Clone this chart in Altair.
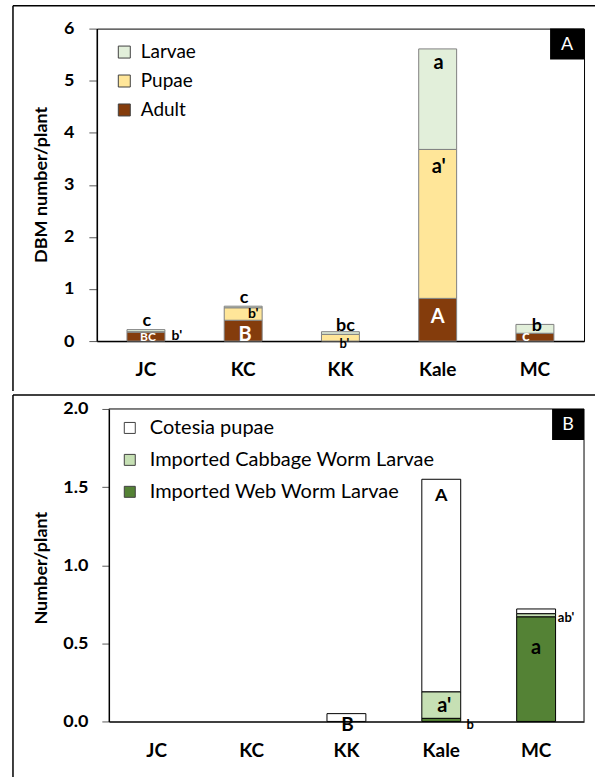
import altair as alt
import pandas as pd

FONT = "Lato"
cats = ["JC", "KC", "KK", "Kale", "MC"]

# ---------- Panel A: DBM number / plant ----------
a_series = ["Larvae", "Pupae", "Adult"]
a_colors = ["#E2EFDA", "#FFE699", "#843C0C"]
a_adult = [0.17, 0.40, 0.00, 0.82, 0.15]
a_pupae = [0.01, 0.24, 0.13, 2.86, 0.00]
a_larvae = [0.04, 0.03, 0.05, 1.93, 0.17]

a_let_cat = ["JC", "JC", "JC", "KC", "KC", "KC", "KK", "KK", "Kale", "Kale", "Kale", "MC", "MC"]
a_let_y = [0.39, 0.07, 0.09, 0.82, 0.52, 0.12, 0.29, -0.06, 5.33, 3.35, 0.46, 0.29, 0.10]
a_let_txt = ["c", "BC", "b'", "c", "b'", "B", "bc", "b'", "a", "a'", "A", "b", "c"]
# style per letter: (color, font size, dx)
a_let_style = [("black", 18, 1), ("white", 12, 2), ("black", 14, 31), ("black", 18, 1),
               ("black", 14, 10), ("white", 20, 2), ("black", 18, 5), ("black", 13, 4),
               ("black", 20, 1), ("black", 20, 1), ("white", 20, 0), ("black", 18, 2),
               ("white", 16, -9)]

# ---------- Panel B: Number / plant ----------
b_series = ["Cotesia pupae", "Imported Cabbage Worm Larvae", "Imported Web Worm Larvae"]
b_colors = ["#FFFFFF", "#C6E0B4", "#548235"]
b_web = [0.00, 0.00, 0.00, 0.02, 0.67]
b_cabbage = [0.00, 0.00, 0.00, 0.17, 0.02]
b_cotesia = [0.00, 0.00, 0.05, 1.36, 0.03]

b_let_cat = ["KK", "Kale", "Kale", "Kale", "MC", "MC"]
b_let_y = [-0.02, 1.44, 0.10, -0.02, 0.66, 0.47]
b_let_txt = ["B", "A", "a'", "b", "ab'", "a"]
b_let_style = [("black", 19, 1), ("black", 18, 0), ("black", 20, 3), ("black", 13, 29),
               ("black", 13, 30), ("black", 20, 0)]


def long_df(value_lists, names):
    rows = []
    for k, (name, vals) in enumerate(zip(names, value_lists)):
        for c, v in zip(cats, vals):
            if v > 0:
                rows.append({"cat": c, "series": name, "value": v, "ord": k})
    return pd.DataFrame(rows)


dfA = long_df([a_adult, a_pupae, a_larvae], ["Adult", "Pupae", "Larvae"])
dfB = long_df([b_web, b_cabbage, b_cotesia],
              ["Imported Web Worm Larvae", "Imported Cabbage Worm Larvae", "Cotesia pupae"])


def letters(cat_l, y_l, txt_l, style_l):
    layers = []
    for c, y, t, (col, fs, dx) in zip(cat_l, y_l, txt_l, style_l):
        d = pd.DataFrame({"cat": [c], "y": [y], "t": [t]})
        layers.append(
            alt.Chart(d).mark_text(color=col, fontSize=fs, fontWeight="bold", font=FONT,
                                   dx=dx, baseline="middle", align="center")
            .encode(x=alt.X("cat:N"), y=alt.Y("y:Q"), text="t:N")
        )
    return layers


def rule(x, y, x2=None, y2=None, width=1.5, color="black"):
    enc = {"x": alt.value(x), "y": alt.value(y)}
    if x2 is not None:
        enc["x2"] = alt.value(x2)
    if y2 is not None:
        enc["y2"] = alt.value(y2)
    return alt.Chart(pd.DataFrame({"k": [0]})).mark_rule(
        color=color, strokeWidth=width, clip=False).encode(**enc)


def tag(letter, x0, x1, h):
    d = pd.DataFrame({"t": [letter]})
    box = alt.Chart(d).mark_rect(color="black").encode(
        x=alt.value(x0), x2=alt.value(x1), y=alt.value(0), y2=alt.value(h))
    txt = alt.Chart(d).mark_text(color="white", fontSize=18, font=FONT, baseline="middle").encode(
        x=alt.value((x0 + x1) / 2), y=alt.value(h / 2 + 1), text="t:N")
    return [box, txt]


W = 488
H = 313

x_axis = dict(title=None, labelAngle=0, ticks=False, labelFont=FONT, labelFontSize=19,
              labelFontWeight="bold", labelColor="black", domainColor="black", domainWidth=1.5)

# ---------- chart A ----------
barsA = alt.Chart(dfA).mark_bar(stroke="#7F7F7F", strokeWidth=1).encode(
    x=alt.X("cat:N", scale=alt.Scale(domain=cats, paddingInner=0.61, paddingOuter=0.31),
            axis=alt.Axis(labelPadding=19, **x_axis)),
    y=alt.Y("value:Q", stack="zero", scale=alt.Scale(domain=[0, 6], nice=False),
            axis=alt.Axis(title="DBM number/plant", values=[0, 1, 2, 3, 4, 5, 6], format="d",
                          grid=False, tickSize=8, tickColor="#595959", labelPadding=15,
                          labelFont=FONT, labelFontSize=18, labelFontWeight="bold",
                          labelColor="black", domainColor="black", domainWidth=1.5,
                          titleFont=FONT, titleFontSize=18, titleFontWeight="bold",
                          titleColor="black", titleX=-55, titleY=156, titleAngle=270,
                          titleAlign="center", titleBaseline="middle")),
    color=alt.Color("series:N", scale=alt.Scale(domain=a_series, range=a_colors),
                    legend=alt.Legend(title=None, orient="none", legendX=18, legendY=14,
                                      labelFont=FONT, labelFontSize=19, labelColor="black",
                                      labelLimit=0,
                                      symbolType="square", symbolSize=144,
                                      symbolStrokeColor="#404040", symbolStrokeWidth=1,
                                      labelOffset=7, rowPadding=9, padding=0)),
    order=alt.Order("ord:Q", sort="ascending"),
)

layersA = [barsA] + letters(a_let_cat, a_let_y, a_let_txt, a_let_style) + tag("A", 454, 488, 31) + [
    rule(-84, -23, x2=499),
    rule(-84, -23, y2=363),
]
chartA = alt.layer(*layersA).properties(
    width=W, height=H, view=alt.ViewBackground(stroke="black", strokeWidth=1))

# ---------- chart B ----------
barsB = alt.Chart(dfB).mark_bar(stroke="black", strokeWidth=1).encode(
    x=alt.X("cat:N", scale=alt.Scale(domain=cats, range=[12, 488], paddingInner=0.59,
                                     paddingOuter=0.3),
            axis=alt.Axis(labelPadding=20, **x_axis)),
    y=alt.Y("value:Q", stack="zero", scale=alt.Scale(domain=[0, 2], nice=False),
            axis=alt.Axis(title="Number/plant", values=[0, 0.5, 1, 1.5, 2], format=".1f",
                          offset=-12, grid=False, tickSize=7, tickColor="#595959",
                          labelPadding=14, labelFont=FONT, labelFontSize=18,
                          labelFontWeight="bold", labelColor="black", domainColor="black",
                          domainWidth=1.5, titleFont=FONT, titleFontSize=18,
                          titleFontWeight="bold", titleColor="black", titleX=-67, titleY=159,
                          titleAngle=270, titleAlign="center", titleBaseline="middle")),
    color=alt.Color("series:N", scale=alt.Scale(domain=b_series, range=b_colors),
                    legend=alt.Legend(title=None, orient="none", legendX=23, legendY=9,
                                      labelFont=FONT, labelFontSize=20, labelColor="black",
                                      labelLimit=0,
                                      symbolType="square", symbolSize=121,
                                      symbolStrokeColor="#404040", symbolStrokeWidth=1,
                                      labelOffset=10, rowPadding=12, padding=0)),
    order=alt.Order("ord:Q", sort="ascending"),
)

layersB = [barsB] + letters(b_let_cat, b_let_y, b_let_txt, b_let_style) + tag("B", 456, 488, 31) + [
    rule(12, 0, x2=488, width=1),
    rule(488, 0, y2=H, width=1),
    rule(-84, -14, x2=499),
    rule(-84, -14, y2=370),
]
chartB = alt.layer(*layersB).properties(
    width=W, height=H, view=alt.ViewBackground(stroke="transparent"))

chart = alt.vconcat(chartA, chartB, spacing=0).properties(
    padding={"left": 11, "top": 3, "right": 0, "bottom": 0},
    background="white",
).resolve_scale(color="independent", x="independent", y="independent")

chart.save("out.html", embed_options={"renderer": "svg", "actions": False})
